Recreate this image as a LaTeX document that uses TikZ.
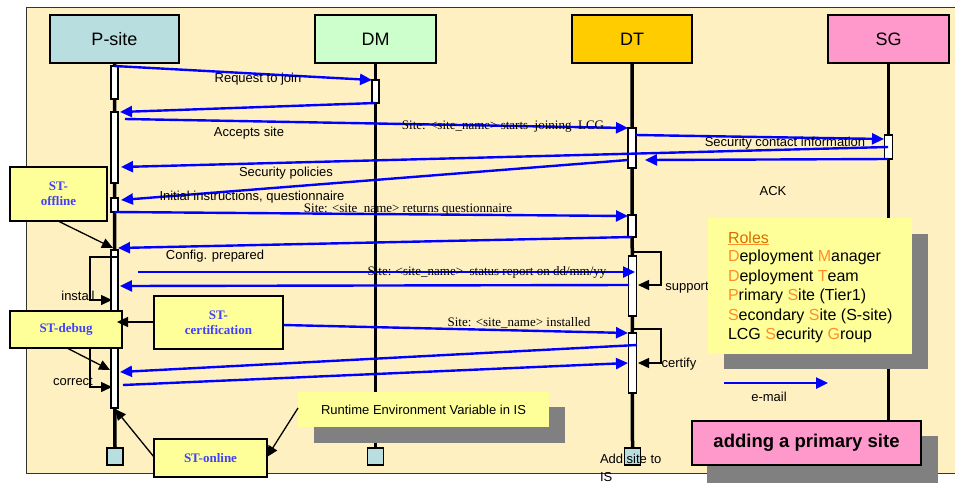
\documentclass[tikz,border=0pt]{standalone}
\usepackage{fontspec}
\setmainfont{Liberation Sans}
\newfontfamily\tms{Liberation Serif}
\usetikzlibrary{arrows.meta}
\definecolor{bgc}{RGB}{255,240,194}
\definecolor{psitec}{RGB}{184,222,224}
\definecolor{dmc}{RGB}{204,255,204}
\definecolor{dtc}{RGB}{255,204,0}
\definecolor{sgc}{RGB}{255,153,204}
\definecolor{noteyel}{RGB}{255,255,153}
\definecolor{notetxt}{RGB}{64,64,255}
\definecolor{shadowc}{RGB}{128,128,128}
\definecolor{orng}{RGB}{255,140,40}
\definecolor{rolesc}{RGB}{214,110,0}
\begin{document}
\begin{tikzpicture}[x=1pt,y=-1pt,
  every node/.style={inner sep=0pt, outer sep=0pt},
  head/.style={draw=black, line width=1.5pt, minimum height=48pt, font=\fontsize{18}{20}\selectfont},
  life/.style={line width=3.5pt},
  actbar/.style={draw=black, fill=white, line width=1.2pt},
  endsq/.style={draw=black, fill=psitec, line width=1.2pt, minimum width=16pt, minimum height=17pt},
  msg/.style={draw=blue, line width=2.4pt, -{Triangle[length=12pt,width=11pt]}},
  selfmsg/.style={draw=black, line width=1.5pt, -{Triangle[length=11pt,width=10pt]}},
  notearrow/.style={draw=black, line width=1.3pt, -{Triangle[length=11pt,width=10pt]}},
  note/.style={draw=black, fill=noteyel, line width=1.5pt, align=center, font=\tms\bfseries\fontsize{13}{15}\selectfont, text=notetxt},
  lbl/.style={font=\fontsize{13}{15}\selectfont},
  tlbl/.style={font=\tms\fontsize{13}{15}\selectfont},
  rolestxt/.style={anchor=west, font=\fontsize{16}{18}\selectfont},
  shadowbox/.style={fill=shadowc},
]
\useasboundingbox (0,0) rectangle (955,483);
% background
\fill[bgc] (26,7) rectangle (955,473);
\draw[line width=1pt, black!80] (955,7) -- (26,7) -- (26,473) -- (955,473);

% headers
\node[head, fill=psitec, minimum width=129pt] (psite) at (114.5,39) {P-site};
\node[head, fill=dmc, minimum width=121pt] (dm) at (375.5,39) {DM};
\node[head, fill=dtc, minimum width=120pt] (dt) at (632,39) {DT};
\node[head, fill=sgc, minimum width=121pt] (sg) at (888.5,39) {SG};

% end squares
\node[endsq] (psq) at (115,456.5) {};
\node[endsq] (dmsq) at (375.5,456.5) {};
\node[endsq] (dtsq) at (632.5,456.5) {};

% lifelines
\draw[life] (psite.south) -- (psq.north);
\draw[life] (dm.south) -- (dmsq.north);
\draw[life] (dt.south) -- (dtsq.north);
\coordinate (sgend) at (888.5,421);
\draw[life] (sg.south) -- (sgend);

% shadows
\fill[shadowc] (724,234) rectangle (928,369);
\fill[shadowc] (314,407) rectangle (565,443);
\fill[shadowc] (707,436) rectangle (938,483);

% activation bars
\node[actbar, minimum width=7pt, minimum height=33pt] (pb1) at (114.5,82.5) {};
\node[actbar, minimum width=7pt, minimum height=71pt] (pb2) at (114.5,147.5) {};
\node[actbar, minimum width=7pt, minimum height=14pt] (pb3) at (114.5,205) {};
\node[actbar, minimum width=7pt, minimum height=158pt] (pb4) at (114.5,329) {};
\node[actbar, minimum width=7pt, minimum height=23pt] (dmb) at (375.5,91.5) {};
\node[actbar, minimum width=8pt, minimum height=40pt] (db1) at (632,148) {};
\node[actbar, minimum width=8pt, minimum height=22pt] (db2) at (632,226) {};
\node[actbar, minimum width=8pt, minimum height=60pt] (db3) at (632.5,286) {};
\node[actbar, minimum width=8pt, minimum height=60pt] (db4) at (632.5,363) {};
\node[actbar, minimum width=8pt, minimum height=24pt] (sgb) at (888.5,147) {};

% message end points
\coordinate (a1s) at (114.5,66);  \coordinate (a1e) at (372,80);
\coordinate (a2s) at (375.5,103); \coordinate (a2e) at (120,112);
\coordinate (a3s) at (125,119);   \coordinate (a3e) at (628,128);
\coordinate (a4s) at (636,135);   \coordinate (a4e) at (884,139);
\coordinate (a5s) at (888,147);   \coordinate (a5e) at (121,167);
\coordinate (a6s) at (888,159);   \coordinate (a6e) at (645,160);
\coordinate (a7s) at (628,160);   \coordinate (a7e) at (121,200);
\coordinate (a8s) at (114.5,212); \coordinate (a8e) at (628,216);
\coordinate (a9s) at (632,237);   \coordinate (a9e) at (118,248);
\coordinate (a10s) at (138,272);  \coordinate (a10e) at (635,272);
\coordinate (a11s) at (629,285);  \coordinate (a11e) at (120,286);
\coordinate (a12s) at (283,325);  \coordinate (a12e) at (628,333);
\coordinate (a13s) at (637,345);  \coordinate (a13e) at (120,372);
\coordinate (a14s) at (123,385);  \coordinate (a14e) at (628,363);

\draw[msg] (a1s) -- (a1e);
\draw[msg] (a2s) -- (a2e);
\draw[msg] (a3s) -- (a3e);
\draw[msg] (a4s) -- (a4e);
\draw[msg] (a5s) -- (a5e);
\draw[msg] (a6s) -- (a6e);
\draw[msg] (a7s) -- (a7e);
\draw[msg] (a8s) -- (a8e);
\draw[msg] (a9s) -- (a9e);
\draw[msg] (a10s) -- (a10e);
\draw[msg] (a11s) -- (a11e);
\draw[msg] (a12s) -- (a12e);
\draw[msg] (a13s) -- (a13e);
\draw[msg] (a14s) -- (a14e);

% self messages
\coordinate (ins) at (118,257); \coordinate (ine) at (112,300);
\draw[selfmsg] (ins) -- (90,257) -- (90,300) -- (ine);
\coordinate (cos) at (118,318); \coordinate (coe) at (112,387);
\draw[selfmsg] (cos) -- (90,318) -- (90,387) -- (coe);
\coordinate (sus) at (633,252); \coordinate (sue) at (638,285);
\draw[selfmsg] (sus) -- (661,252) -- (661,285) -- (sue);
\coordinate (ces) at (633,329); \coordinate (cee) at (638,363);
\draw[selfmsg] (ces) -- (661,329) -- (661,363) -- (cee);

% labels
\node[lbl] (l1) at (258,79) {Request to join};
\node[lbl] (l2) at (249,133) {Accepts site};
\node[tlbl] (l3) at (503,127) {Site: <site\_name> starts\ \ joining\ \ LCG};
\node[lbl] (l4) at (785,143) {Security contact information};
\node[lbl] (l5) at (286,173) {Security policies};
\node[lbl] (l6) at (773,191) {ACK};
\node[lbl] (l7) at (252,197) {Initial instructions, questionnaire};
\node[tlbl] (l8) at (408,210) {Site: <site\_name> returns questionnaire};
\node[lbl] (l9) at (215,256) {Config. prepared};
\node[tlbl] (l10) at (487,272) {Site: <site\_name>\ \ status report on dd/mm/yy};
\node[lbl] (l11) at (78,296) {install};
\node[lbl] (l12) at (687,288) {support};
\node[tlbl] (l13) at (519,323) {Site: <site\_name> installed};
\node[lbl] (l14) at (679,364) {certify};
\node[lbl] (l15) at (73,381) {correct};
\node[lbl, anchor=west] (l16) at (600,459) {Add site to};
\node[lbl, anchor=west] (l17) at (600,477) {IS};

% notes
\node[note, minimum width=97pt, minimum height=54pt] (stoff) at (58.5,194) {ST-\\offline};
\node[note, minimum width=112pt, minimum height=37pt] (stdbg) at (66,329.5) {ST-debug};
\node[note, minimum width=129pt, minimum height=53pt] (stcert) at (218.5,322.5) {ST-\\certification};
\node[note, minimum width=113pt, minimum height=38pt] (stonl) at (210.5,458) {ST-online};
\node[fill=noteyel, minimum width=251pt, minimum height=35pt, lbl] (rtev) at (423.5,409.5) {Runtime Environment Variable in IS};

\coordinate (n1s) at (58,221);  \coordinate (n1e) at (113,248);
\coordinate (n2s) at (154,322); \coordinate (n2e) at (117,322);
\coordinate (n3s) at (67,348);  \coordinate (n3e) at (110,370);
\coordinate (n4s) at (154,457); \coordinate (n4e) at (115,409);
\coordinate (n5s) at (298,408); \coordinate (n5e) at (267,457);
\draw[notearrow] (n1s) -- (n1e);
\draw[notearrow] (n2s) -- (n2e);
\draw[notearrow] (n3s) -- (n3e);
\draw[notearrow] (n4s) -- (n4e);
\draw[notearrow] (n5s) -- (n5e);

% roles legend
\node[fill=noteyel, minimum width=204pt, minimum height=136pt] (roles) at (810,286) {};
\node[rolestxt, text=rolesc] (rt0) at (728,238) {Roles};
\draw[orng, line width=1.2pt] (rt0.south west) ++(0,1) -- ++(41,0);
\node[rolestxt] (rt1) at (728,257.5) {\textcolor{orng}{D}eployment \textcolor{orng}{M}anager};
\node[rolestxt] (rt2) at (728,277) {\textcolor{orng}{D}eployment \textcolor{orng}{T}eam};
\node[rolestxt] (rt3) at (728,296.5) {\textcolor{orng}{P}rimary \textcolor{orng}{S}ite (Tier1)};
\node[rolestxt] (rt4) at (728,316) {\textcolor{orng}{S}econdary \textcolor{orng}{S}ite (S-site)};
\node[rolestxt] (rt5) at (728,335.5) {LCG \textcolor{orng}{S}ecurity \textcolor{orng}{G}roup};

% e-mail legend
\coordinate (ems) at (724,383); \coordinate (eme) at (828,383);
\draw[msg] (ems) -- (eme);
\node[lbl] (eml) at (769,397) {e-mail};

% title
\node[draw=black, fill=sgc, line width=1.5pt, minimum width=229pt, minimum height=44pt, font=\bfseries\fontsize{18.5}{20}\selectfont] (title) at (806.5,443) {adding a primary site};
\end{tikzpicture}
\end{document}
